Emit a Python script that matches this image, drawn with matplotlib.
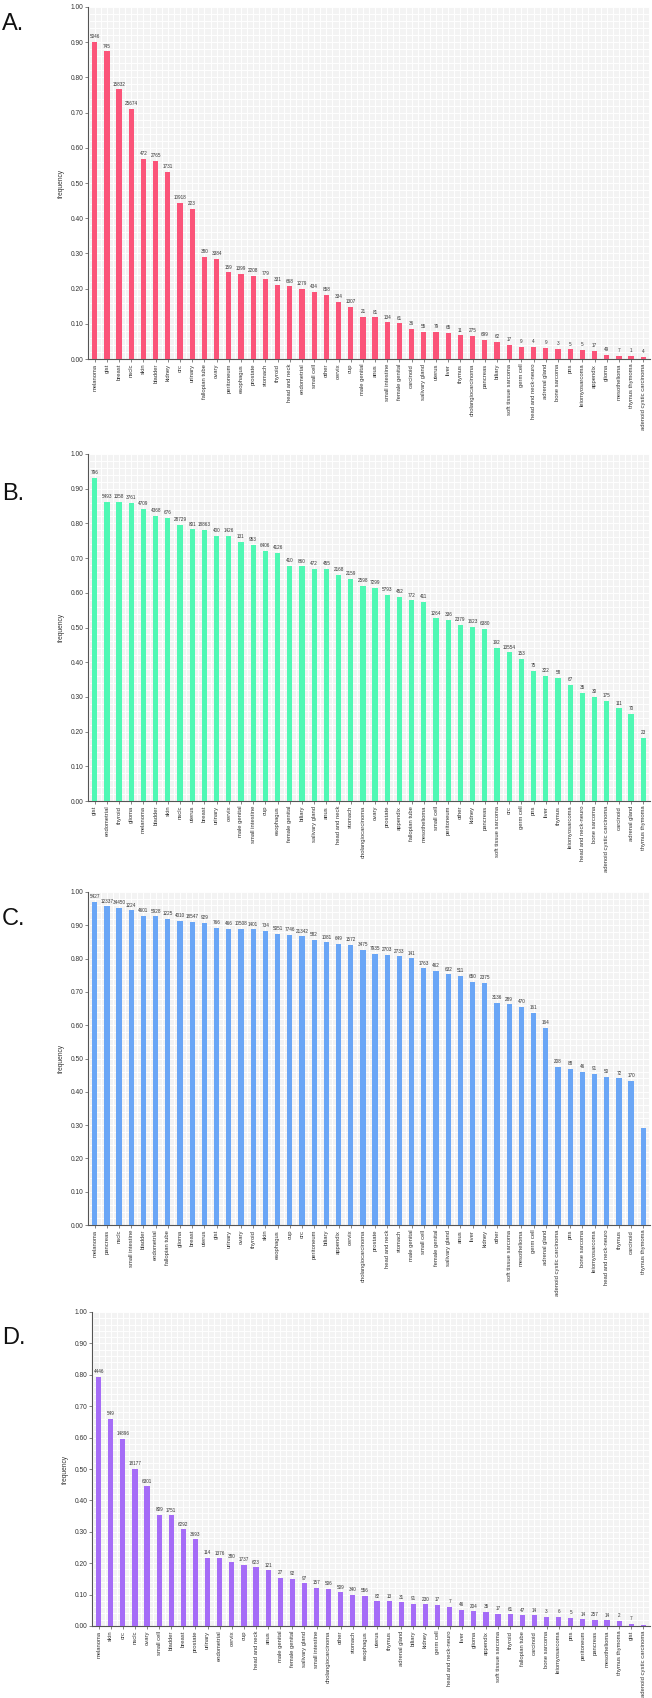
import matplotlib
matplotlib.use("Agg")
import matplotlib.pyplot as plt
from matplotlib.ticker import MultipleLocator, FixedLocator

plt.rcParams["font.family"] = ["Liberation Sans", "DejaVu Sans"]

# ---------------- data ----------------
cats_a = ["melanoma", "gist", "breast", "nsclc", "skin", "bladder", "kidney", "crc", "urinary",
          "fallopian tube", "ovary", "peritoneum", "esophagus", "prostate", "stomach", "thyroid",
          "head and neck", "endometrial", "small cell", "other", "cervix", "cup", "male genital",
          "anus", "small intestine", "female genital", "carcinoid", "salivary gland", "uterus",
          "liver", "thymus", "cholangiocarcinoma", "pancreas", "biliary", "soft tissue sarcoma",
          "germ cell", "head and neck-neuro", "adrenal gland", "bone sarcoma", "pns",
          "leiomyosarcoma", "appendix", "glioma", "mesothelioma", "thymus thymoma",
          "adenoid cystic carcinoma"]
vals_a = [0.901, 0.874, 0.766, 0.710, 0.569, 0.562, 0.531, 0.444, 0.426, 0.290, 0.284, 0.246,
          0.242, 0.236, 0.228, 0.210, 0.206, 0.200, 0.190, 0.183, 0.163, 0.147, 0.119, 0.118,
          0.104, 0.101, 0.086, 0.078, 0.078, 0.073, 0.067, 0.065, 0.054, 0.048, 0.039, 0.035,
          0.035, 0.031, 0.029, 0.027, 0.025, 0.022, 0.011, 0.009, 0.008, 0.006]
counts_a = ["5046", "745", "15832", "25674", "472", "2765", "1731", "10918", "223", "380", "3384",
            "159", "1399", "2208", "779", "331", "668", "1279", "434", "858", "334", "1307", "21",
            "81", "134", "61", "36", "55", "79", "65", "11", "275", "699", "62", "17", "9", "4",
            "9", "3", "5", "5", "17", "49", "7", "1", "4"]

cats_b = ["gist", "endometrial", "thyroid", "glioma", "melanoma", "bladder", "skin", "nsclc",
          "uterus", "breast", "urinary", "cervix", "male genital", "small intestine", "cup",
          "esophagus", "female genital", "biliary", "salivary gland", "anus", "head and neck",
          "stomach", "cholangiocarcinoma", "ovary", "prostate", "appendix", "fallopian tube",
          "mesothelioma", "small cell", "peritoneum", "other", "kidney", "pancreas",
          "soft tissue sarcoma", "crc", "germ cell", "pns", "liver", "thymus", "leiomyosarcoma",
          "head and neck-neuro", "bone sarcoma", "adenoid cystic carcinoma", "carcinoid",
          "adrenal gland", "thymus thymoma"]
vals_b = [0.932, 0.861, 0.861, 0.858, 0.842, 0.822, 0.817, 0.795, 0.783, 0.781, 0.765, 0.765,
          0.747, 0.737, 0.721, 0.715, 0.677, 0.676, 0.670, 0.668, 0.652, 0.639, 0.619, 0.614,
          0.595, 0.589, 0.578, 0.573, 0.526, 0.522, 0.507, 0.501, 0.495, 0.442, 0.428, 0.409,
          0.375, 0.361, 0.355, 0.334, 0.312, 0.300, 0.288, 0.267, 0.252, 0.181]
counts_b = ["796", "5493", "1358", "3761", "4709", "4368", "676", "28729", "801", "18863", "400",
            "1426", "131", "953", "6406", "4126", "410", "860", "472", "455", "2168", "2159",
            "2598", "7299", "5793", "452", "772", "411", "1264", "336", "2379", "1623", "6380",
            "192", "13554", "153", "75", "322", "58", "67", "35", "30", "175", "111", "70", "23"]

cats_c = ["melanoma", "pancreas", "nsclc", "small intestine", "bladder", "endometrial",
          "fallopian tube", "glioma", "breast", "uterus", "gist", "urinary", "ovary", "thyroid",
          "skin", "esophagus", "cup", "crc", "peritoneum", "biliary", "appendix", "cervix",
          "cholangiocarcinoma", "prostate", "head and neck", "stomach", "male genital",
          "small cell", "female genital", "salivary gland", "anus", "liver", "kidney", "other",
          "soft tissue sarcoma", "mesothelioma", "germ cell", "adrenal gland",
          "adenoid cystic carcinoma", "pns", "bone sarcoma", "leiomyosarcoma",
          "head and neck-neuro", "thymus", "carcinoid", "thymus thymoma"]
vals_c = [0.970, 0.957, 0.953, 0.945, 0.929, 0.927, 0.919, 0.913, 0.910, 0.908, 0.893, 0.889,
          0.889, 0.888, 0.884, 0.874, 0.872, 0.867, 0.856, 0.849, 0.845, 0.842, 0.826, 0.814,
          0.812, 0.807, 0.801, 0.771, 0.763, 0.753, 0.749, 0.730, 0.728, 0.667, 0.663, 0.655,
          0.638, 0.592, 0.474, 0.469, 0.459, 0.454, 0.445, 0.440, 0.432, 0.291]
counts_c = ["5427", "12337", "34450", "1224", "4601", "5928", "1225", "4010", "18547", "929",
            "766", "466", "10508", "1401", "734", "5051", "7746", "21342", "582", "1081", "649",
            "1572", "3475", "7935", "2703", "2733", "141", "1763", "462", "632", "511", "650",
            "2375", "3136", "289", "470", "161", "164", "208", "88", "46", "91", "50", "72",
            "170", ""]

cats_d = ["melanoma", "skin", "crc", "nsclc", "ovary", "small cell", "bladder", "breast",
          "prostate", "urinary", "endometrial", "cervix", "cup", "head and neck", "anus",
          "male genital", "female genital", "salivary gland", "small intestine",
          "cholangiocarcinoma", "other", "stomach", "esophagus", "uterus", "thymus",
          "adrenal gland", "biliary", "kidney", "germ cell", "head and neck-neuro", "liver",
          "glioma", "appendix", "soft tissue sarcoma", "thyroid", "fallopian tube", "carcinoid",
          "bone sarcoma", "leiomyosarcoma", "pns", "peritoneum", "pancreas", "mesothelioma",
          "thymus thymoma", "gist", "adenoid cystic carcinoma"]
vals_d = [0.794, 0.660, 0.597, 0.501, 0.445, 0.354, 0.352, 0.308, 0.276, 0.218, 0.215, 0.204,
          0.195, 0.187, 0.177, 0.153, 0.151, 0.136, 0.121, 0.119, 0.108, 0.100, 0.096, 0.079,
          0.079, 0.075, 0.071, 0.070, 0.067, 0.062, 0.051, 0.047, 0.045, 0.039, 0.038, 0.034,
          0.034, 0.030, 0.030, 0.027, 0.021, 0.020, 0.019, 0.016, 0.007, 0.004]
counts_d = ["4446", "549", "14896", "18177", "6301", "809", "1751", "6292", "3693", "114",
            "1376", "380", "1737", "623", "121", "27", "92", "97", "157", "506", "509", "340",
            "556", "82", "13", "31", "91", "230", "17", "7", "46", "204", "35", "17", "61", "47",
            "14", "3", "6", "5", "14", "257", "14", "2", "7", ""]

panels = [
    ("A.", cats_a, vals_a, counts_a, "#fb5479", (88, 7, 650, 359), 24),
    ("B.", cats_b, vals_b, counts_b, "#50f8b4", (88, 454, 650, 801), 494),
    ("C.", cats_c, vals_c, counts_c, "#6aa6f6", (88, 892, 650, 1225), 919),
    ("D.", cats_d, vals_d, counts_d, "#a56cf7", (92, 1312, 650, 1626), 1338),
]

W, H = 652, 1698
fig = plt.figure(figsize=(W / 100, H / 100), dpi=100)
fig.patch.set_facecolor("white")

for letter, cats, vals, counts, color, (l, t, r, b), ly in panels:
    ax = fig.add_axes([l / W, 1 - b / H, (r - l) / W, (b - t) / H])
    ax.set_facecolor("#f3f3f3")
    x = list(range(len(cats)))
    ax.bar(x, vals, width=0.43, color=color, zorder=3)
    for xi, v, c in zip(x, vals, counts):
        if c:
            ax.text(xi, v + 0.008, c, ha="center", va="bottom", fontsize=3.3,
                    color="#333333", zorder=4)
    ax.set_xlim(-0.55, len(cats) - 0.45)
    ax.set_ylim(0, 1.0)
    ax.yaxis.set_minor_locator(MultipleLocator(0.02))
    ax.set_yticks([i / 10 for i in range(11)])
    ax.set_yticklabels([f"{i / 10:.2f}" for i in range(11)], fontsize=4.8, color="#333333")
    ax.set_xticks(x)
    ax.set_xticklabels(cats, rotation=90, fontsize=4.2, color="#333333")
    ax.xaxis.set_minor_locator(FixedLocator([i - 0.5 for i in range(len(cats) + 1)]))
    ax.grid(which="both", color="white", linewidth=0.7, zorder=0)
    ax.set_axisbelow(True)
    for s in ("top", "right"):
        ax.spines[s].set_visible(False)
    for s in ("left", "bottom"):
        ax.spines[s].set_color("#555555")
        ax.spines[s].set_linewidth(0.8)
    ax.tick_params(axis="both", which="major", length=2, width=0.5, pad=1.5, colors="#555555",
                   labelcolor="#333333")
    ax.tick_params(axis="both", which="minor", length=0)
    ax.set_ylabel("frequency", fontsize=4.8, color="#333333", labelpad=4)
    fig.text(2 / W, 1 - ly / H, letter, fontsize=17, ha="left", va="center", color="#111111")

fig.savefig("out.png", dpi=100)
